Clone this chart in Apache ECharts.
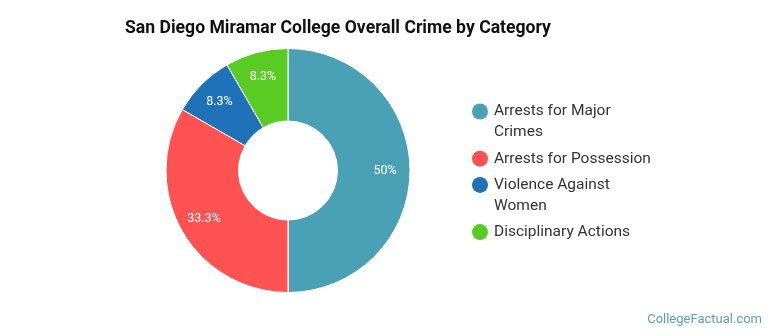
<!DOCTYPE html>
<html>
<head>
<meta charset="utf-8">
<script src="https://cdn.jsdelivr.net/npm/echarts@6/dist/echarts.min.js"></script>
<style>
  html, body { margin: 0; padding: 0; background: #fff; }
  #chart { width: 770px; height: 335px; }
</style>
</head>
<body>
<div id="chart"></div>
<script>
var categories = ['Arrests for Major Crimes', 'Arrests for Possession', 'Violence Against Women', 'Disciplinary Actions'];
var counts = [6, 4, 1, 1];
var colors = ['#4aa0b4', '#ff5252', '#1f72b8', '#5acb23'];

var myChart = echarts.init(document.getElementById('chart'));

// wrap legend names the way the original does (break on words)
var legendFont = '15.5px Roboto';
var ctx = document.createElement('canvas').getContext('2d');
ctx.font = legendFont;
function wrap(text, maxW) {
    var words = text.split(' '), lines = [], cur = '';
    words.forEach(function (w) {
        var t = cur ? cur + ' ' + w : w;
        if (cur && ctx.measureText(t).width > maxW) { lines.push(cur); cur = w; }
        else cur = t;
    });
    lines.push(cur);
    return lines;
}

var legendItems = [];
var y = 101, lineH = 21;
categories.forEach(function (name, i) {
    var lines = wrap(name, 160);
    legendItems.push({
        type: 'circle',
        shape: { cx: 480, cy: y + lineH / 2, r: 8 },
        style: { fill: colors[i] }
    });
    legendItems.push({
        type: 'text',
        x: 494, y: y,
        style: {
            text: lines.join('\n'),
            font: legendFont,
            lineHeight: lineH,
            fill: '#333',
            verticalAlign: 'top'
        }
    });
    y += lines.length * lineH + 5.2;
});

var pieData = categories.map(function (c, i) {
    return { name: c, value: counts[i], itemStyle: { color: colors[i] } };
});

var option = {
    title: {
        text: 'San Diego Miramar College Overall Crime by Category',
        left: 120,
        top: 15,
        textStyle: { fontFamily: 'Roboto', fontSize: 17.6, fontWeight: 'bold', color: '#111' }
    },
    graphic: legendItems.concat([{
        type: 'text',
        right: 8,
        top: 313,
        style: { text: 'CollegeFactual.com', font: '13px Roboto', fill: '#5c9fb6' }
    }]),
    series: [
        {
            name: 'Crime',
            type: 'pie',
            center: [288, 170.5],
            radius: [49.5, 122],
            startAngle: 90,
            silent: true,
            label: { show: false },
            labelLine: { show: false },
            itemStyle: { borderColor: '#fff', borderWidth: 1 },
            data: pieData
        },
        {
            name: 'labels',
            type: 'pie',
            center: [288, 170.5],
            radius: [66, 122],
            startAngle: 90,
            silent: true,
            itemStyle: { color: 'rgba(0,0,0,0)' },
            label: {
                show: true,
                position: 'inside',
                color: '#fff',
                fontFamily: 'Roboto',
                fontSize: 12.5,
                formatter: function (p) { return (Math.round(p.percent * 10) / 10) + '%'; }
            },
            labelLine: { show: false },
            data: categories.map(function (c, i) { return { name: c, value: counts[i] }; })
        }
    ]
};
myChart.setOption(option);
</script>
</body>
</html>
